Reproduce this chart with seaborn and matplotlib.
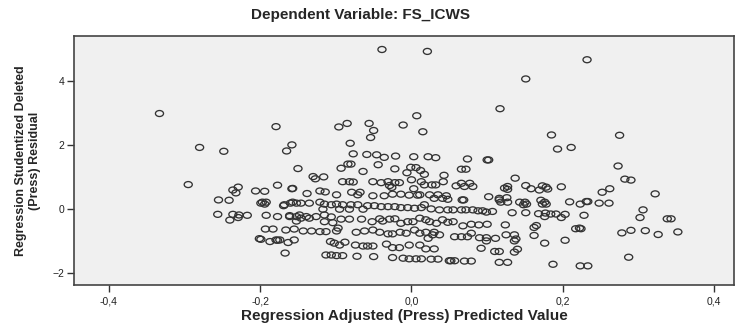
import numpy as np
import pandas as pd
import matplotlib
matplotlib.use("Agg")
import matplotlib.pyplot as plt
from matplotlib.path import Path
from matplotlib.transforms import Affine2D
import seaborn as sns

# (adjusted predicted value, studentized deleted residual)
upper_pts = [(-0.333, 2.98), (-0.280, 1.92), (-0.248, 1.80), (-0.179, 2.57), (-0.158, 2.00), (-0.165, 1.81),
             (-0.039, 4.98), (0.021, 4.92), (0.151, 4.06), (0.117, 3.13), (0.007, 2.91), (-0.011, 2.62),
             (0.015, 2.41), (-0.096, 2.56), (-0.085, 2.67), (-0.056, 2.67), (-0.050, 2.45), (-0.054, 2.23),
             (-0.081, 2.05), (-0.077, 1.72), (-0.059, 1.70), (-0.046, 1.69), (-0.036, 1.61), (-0.021, 1.65),
             (0.003, 1.63), (0.022, 1.63), (0.032, 1.60), (0.074, 1.56), (0.100, 1.53), (0.102, 1.53),
             (0.232, 4.66), (0.185, 2.31), (0.275, 2.30), (0.193, 1.87), (0.211, 1.92)]

mid_high_pts = [(-0.150, 1.26), (-0.084, 1.40), (-0.080, 1.40), (-0.093, 1.27), (-0.064, 1.17), (-0.044, 1.38),
                (-0.022, 1.25), (-0.001, 1.30), (0.006, 1.29), (0.012, 1.20), (0.017, 1.08), (-0.006, 1.13),
                (-0.130, 1.01), (-0.127, 0.94), (-0.116, 1.00), (-0.177, 0.74), (-0.158, 0.63), (-0.157, 0.64),
                (-0.138, 0.48), (-0.121, 0.56), (-0.114, 0.53), (-0.099, 0.44), (-0.091, 0.85), (-0.082, 0.85),
                (-0.077, 0.84), (-0.079, 0.52), (-0.068, 0.52), (-0.071, 0.44), (-0.051, 0.85), (-0.040, 0.82),
                (-0.031, 0.85), (-0.022, 0.82), (-0.016, 0.82), (-0.029, 0.73), (-0.026, 0.67), (0.000, 0.91),
                (0.013, 0.85), (0.003, 0.63), (-0.051, 0.41), (-0.036, 0.41), (-0.025, 0.46), (-0.014, 0.46),
                (-0.003, 0.43), (0.008, 0.43), (0.043, 1.05), (0.042, 0.85), (0.017, 0.75), (0.027, 0.75),
                (0.032, 0.75), (0.059, 0.72), (0.066, 0.80), (0.077, 0.80), (0.070, 0.70), (0.081, 0.70),
                (0.066, 1.24), (0.072, 1.24), (0.137, 0.96), (0.151, 0.73), (0.158, 0.63), (0.169, 0.59),
                (0.173, 0.72), (0.180, 0.62), (0.178, 0.68), (0.198, 0.69), (0.123, 0.65), (0.127, 0.70),
                (0.127, 0.61), (0.273, 1.34), (0.282, 0.93), (0.290, 0.90), (0.322, 0.47), (0.252, 0.52),
                (0.262, 0.63), (-0.295, 0.76), (-0.236, 0.59), (-0.229, 0.68), (-0.232, 0.50), (-0.206, 0.56),
                (-0.194, 0.55), (-0.255, 0.28), (-0.241, 0.27)]

mid_pts = [(0.011, 0.44), (0.024, 0.44), (0.035, 0.44), (0.046, 0.41), (0.030, 0.33), (0.041, 0.33),
           (0.048, 0.30), (0.067, 0.28), (0.069, 0.28), (0.102, 0.38), (0.116, 0.33), (0.126, 0.35),
           (0.118, 0.21), (0.127, 0.21), (0.143, 0.21), (0.150, 0.21), (0.148, 0.13), (0.152, 0.15),
           (0.171, 0.27), (0.176, 0.21), (0.173, 0.15), (0.178, 0.15), (0.209, 0.22), (0.223, 0.15),
           (0.231, 0.23), (0.233, 0.23), (0.248, 0.18), (0.261, 0.18), (0.116, 0.28),
           (-0.168, 0.13), (-0.160, 0.18), (-0.157, 0.21), (-0.146, 0.18), (-0.135, 0.18), (-0.121, 0.21),
           (-0.115, 0.15), (-0.106, 0.13), (-0.099, 0.15), (-0.091, 0.13), (-0.080, 0.13), (-0.071, 0.13),
           (-0.058, 0.10), (-0.049, 0.10), (-0.040, 0.07), (-0.031, 0.07), (-0.022, 0.07), (-0.014, 0.04),
           (-0.005, 0.04), (0.004, 0.02), (0.013, 0.04), (-0.117, -0.01), (-0.095, -0.01), (-0.082, -0.01),
           (-0.064, -0.01), (-0.169, 0.10), (-0.152, 0.18), (-0.197, 0.21), (-0.192, 0.21), (-0.199, 0.18),
           (-0.194, 0.15)]

zero_pts = [(0.017, 0.13), (0.026, 0.00), (0.037, -0.03), (0.048, -0.03), (0.055, -0.03), (0.066, -0.03),
            (0.072, -0.03), (0.081, -0.03), (0.088, -0.06), (0.094, -0.06), (0.099, -0.10), (0.107, -0.08),
            (0.133, -0.12), (0.151, -0.12), (0.168, -0.15), (0.177, -0.13), (0.184, -0.16), (0.191, -0.16),
            (0.198, -0.27), (0.203, -0.17), (0.176, -0.24), (0.228, -0.20), (0.306, -0.03), (0.302, -0.27),
            (0.338, -0.31), (0.343, -0.31), (-0.256, -0.17), (-0.236, -0.17), (-0.228, -0.19), (-0.217, -0.20),
            (-0.240, -0.35), (-0.229, -0.27), (-0.192, -0.20), (-0.177, -0.24), (-0.161, -0.24), (-0.152, -0.24),
            (-0.161, -0.21), (-0.148, -0.19), (-0.139, -0.24), (-0.135, -0.29), (-0.126, -0.24), (-0.115, -0.19),
            (-0.106, -0.25), (-0.093, -0.32), (-0.082, -0.32), (-0.066, -0.32), (-0.052, -0.40), (-0.042, -0.31),
            (-0.038, -0.38), (-0.029, -0.32), (-0.022, -0.31), (-0.014, -0.45), (-0.005, -0.40), (0.002, -0.40),
            (-0.152, -0.38), (-0.146, -0.29), (-0.115, -0.40), (-0.104, -0.43),
            (0.011, -0.29), (0.019, -0.34), (0.024, -0.40), (0.033, -0.45), (0.041, -0.34), (0.048, -0.42),
            (0.055, -0.40), (0.068, -0.53), (0.079, -0.48), (0.089, -0.50), (0.100, -0.48), (0.124, -0.50),
            (0.162, -0.58), (0.165, -0.52), (0.217, -0.62), (0.222, -0.60), (0.224, -0.62)]

low_pts = [(-0.193, -0.63), (-0.183, -0.63), (-0.166, -0.66), (-0.155, -0.63), (-0.143, -0.69), (-0.132, -0.69),
           (-0.121, -0.71), (-0.113, -0.71), (-0.099, -0.69), (-0.097, -0.60), (-0.073, -0.73), (-0.062, -0.69),
           (-0.051, -0.66), (-0.042, -0.73), (-0.031, -0.78), (-0.025, -0.78), (-0.015, -0.73), (-0.007, -0.76),
           (0.004, -0.66), (0.011, -0.76), (0.019, -0.73), (0.030, -0.73), (0.037, -0.81), (0.022, -0.92),
           (0.028, -0.81), (0.057, -0.87), (0.066, -0.87), (0.074, -0.87), (0.079, -0.76), (0.090, -0.90),
           (0.099, -0.90), (0.099, -1.00), (0.111, -0.92), (0.125, -0.81), (0.136, -0.81), (0.138, -0.94),
           (0.136, -1.00), (0.162, -0.83), (0.176, -1.07), (0.203, -0.98), (0.278, -0.75), (0.290, -0.67),
           (0.309, -0.68), (0.326, -0.80), (0.352, -0.72), (-0.201, -0.93), (-0.199, -0.95), (-0.187, -1.02),
           (-0.179, -0.97), (-0.177, -0.98), (-0.174, -0.97), (-0.163, -1.05), (-0.155, -0.97)]

bottom_pts = [(-0.167, -1.38), (-0.107, -1.02), (-0.102, -1.07), (-0.095, -1.13), (-0.088, -1.04), (-0.074, -1.13),
              (-0.064, -1.16), (-0.058, -1.16), (-0.051, -1.16), (-0.033, -1.10), (-0.025, -1.21), (-0.016, -1.21),
              (-0.003, -1.13), (0.011, -1.13), (0.019, -1.25), (0.030, -1.25), (0.092, -1.23), (0.110, -1.33),
              (0.116, -1.33), (0.136, -1.35), (0.140, -1.26), (-0.113, -1.44), (-0.106, -1.44), (-0.099, -1.46),
              (-0.091, -1.46), (-0.072, -1.48), (-0.050, -1.49), (-0.025, -1.52), (-0.011, -1.54), (-0.003, -1.56),
              (0.006, -1.56), (0.013, -1.56), (0.026, -1.57), (0.035, -1.57), (0.050, -1.62), (0.052, -1.62),
              (0.057, -1.62), (0.070, -1.63), (0.079, -1.63), (0.116, -1.67), (0.127, -1.67), (0.187, -1.73),
              (0.287, -1.51), (0.223, -1.78), (0.233, -1.78)]

x_ticks = [-0.4, -0.2, 0.0, 0.2, 0.4]
x_tick_labels = ["-0,4", "-0,2", "0,0", "0,2", "0,4"]
y_ticks = [-2, 0, 2, 4]

pts = upper_pts + mid_high_pts + mid_pts + zero_pts + low_pts + bottom_pts
df = pd.DataFrame(pts, columns=["pred", "resid"])

sns.set_style("white")
plt.rcParams['font.family'] = ['Liberation Sans', 'DejaVu Sans']

# the source image is a bit wider than tall, so the circles come out as flat ovals
oval = Path.unit_circle().transformed(Affine2D().scale(1.35, 1.0))

fig = plt.figure(figsize=(7.36, 3.29), dpi=100)
ax = fig.add_axes([0.1005, 0.134, 0.897, 0.757])
ax.set_facecolor("#f0f0f0")

sns.scatterplot(data=df, x="pred", y="resid", ax=ax, marker=oval, s=34,
                edgecolor="#333333", linewidth=0.95)
ax.collections[0].set_facecolor("none")

ax.set_xlim(-0.446, 0.4264)
ax.set_ylim(-2.375, 5.406)
ax.set_xticks(x_ticks)
ax.set_xticklabels(x_tick_labels)
ax.set_yticks(y_ticks)
ax.tick_params(axis="both", direction="out", length=5, width=1, color="#333333",
               labelsize=7.5, labelcolor="#222222", pad=2)
ax.tick_params(axis="x", pad=3)
ax.xaxis.set_ticks_position("bottom")
ax.yaxis.set_ticks_position("left")
for sp in ax.spines.values():
    sp.set_color("#444444")
    sp.set_linewidth(1.2)

fig.suptitle("Dependent Variable: FS_ICWS", x=0.49, y=0.975, fontsize=11, fontweight="bold")
ax.set_xlabel("Regression Adjusted (Press) Predicted Value", fontsize=11, fontweight="bold", labelpad=2)
ax.set_ylabel("Regression Studentized Deleted\n(Press) Residual", fontsize=9, fontweight="bold", labelpad=8)

fig.savefig("out.png", dpi=100)
